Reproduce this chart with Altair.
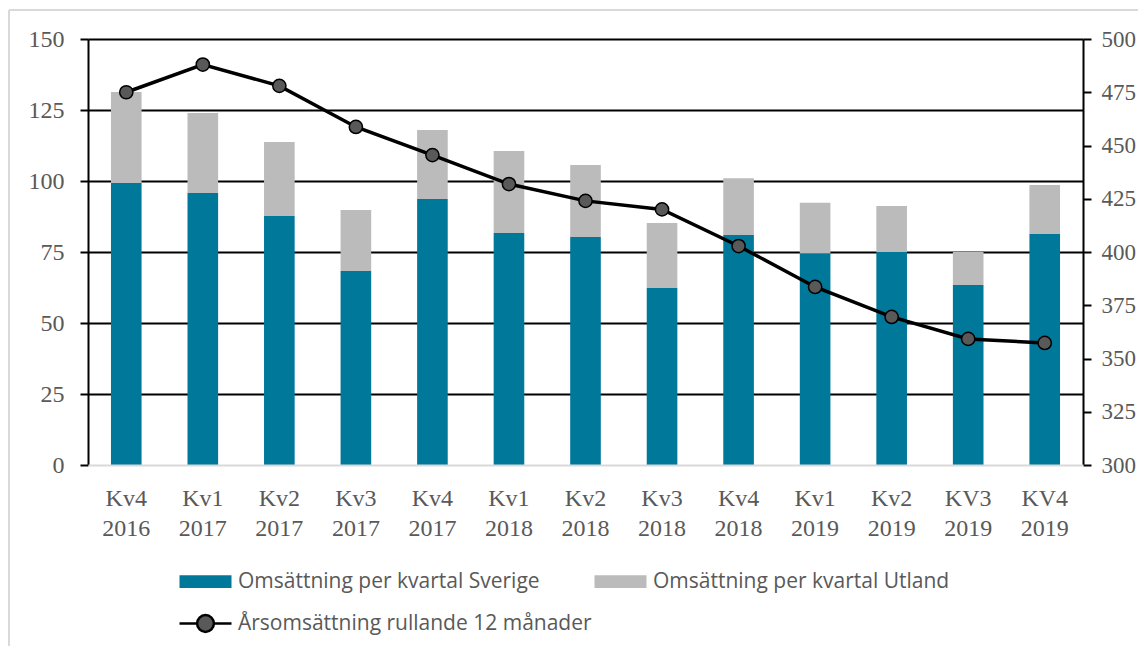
import altair as alt
import pandas as pd

quarters = ["Kv4 2016", "Kv1 2017", "Kv2 2017", "Kv3 2017", "Kv4 2017", "Kv1 2018",
            "Kv2 2018", "Kv3 2018", "Kv4 2018", "Kv1 2019", "Kv2 2019", "KV3 2019", "KV4 2019"]
sverige = [99.3, 95.8, 87.7, 68.3, 93.7, 81.7, 80.3, 62.3, 81.0, 74.6, 75.0, 63.4, 81.3]
utland = [32.0, 28.1, 26.0, 21.5, 24.3, 28.9, 25.3, 22.9, 20.0, 17.7, 16.2, 11.6, 17.3]
rullande = [475.0, 488.0, 478.0, 458.7, 445.5, 431.9, 424.0, 420.0, 402.8, 383.6, 369.5, 359.2, 357.3]

S_NAME = "Omsättning per kvartal Sverige"
U_NAME = "Omsättning per kvartal Utland"
A_NAME = "Årsomsättning rullande 12 månader"

TEAL = "#00789A"
GRAY = "#BBBBBB"
MARKER = "#595959"
TEXT = "#595959"
FRAME = "#D9D9D9"
SERIF = "Liberation Serif"

bars_df = pd.DataFrame(
    [{"q": q, "serie": S_NAME, "v": s, "ord": 0} for q, s in zip(quarters, sverige)]
    + [{"q": q, "serie": U_NAME, "v": u, "ord": 1} for q, u in zip(quarters, utland)]
)
line_df = pd.DataFrame({"q": quarters, "v": rullande})
frame_df = pd.DataFrame({"k": [0]})

rect_path = "M-1,-0.8H5.5V0.8H-1Z"
line_path = ("M-1,0H1.2M3.3,0H5.5M3.3,0A1.05,1.05 0 1,1 1.2,0"
             "A1.05,1.05 0 1,1 3.3,0")

x_scale = alt.Scale(domain=quarters, paddingInner=0.6, paddingOuter=0.3)

x_enc = alt.X(
    "q:N", sort=quarters, scale=x_scale,
    axis=alt.Axis(title=None, labelAngle=0, ticks=False, tickSize=0,
                  labelExpr="split(datum.label, ' ')",
                  labelFont=SERIF, labelFontSize=24, labelColor=TEXT,
                  labelLineHeight=30, labelPadding=21,
                  domainColor=FRAME, domainWidth=2, grid=False, zindex=1),
)
x_plain = alt.X("q:N", sort=quarters, scale=x_scale)

bars = alt.Chart(bars_df).mark_bar().encode(
    x=x_enc,
    y=alt.Y("v:Q", stack="zero",
            scale=alt.Scale(domain=[0, 150], nice=False),
            axis=alt.Axis(title=None, values=[0, 25, 50, 75, 100, 125, 150],
                          labelFont=SERIF, labelFontSize=24, labelColor=TEXT,
                          labelPadding=16, tickSize=8, tickColor="black", tickWidth=2,
                          domainColor="black", domainWidth=2,
                          grid=True, gridWidth=2,
                          gridColor={"condition": {"test": "datum.value === 0", "value": "transparent"},
                                     "value": "black"})),
    color=alt.Color("serie:N",
                    scale=alt.Scale(domain=[S_NAME, U_NAME, A_NAME], range=[TEAL, GRAY, MARKER]),
                    legend=alt.Legend(
                        title=None, orient="none", legendX=89, legendY=532,
                        direction="horizontal",
                        columns=2, columnPadding=-5, rowPadding=17, padding=0,
                        labelFont="Open Sans", labelFontSize=21, labelColor=TEXT,
                        labelOffset=40, labelLimit=500,
                        symbolSize=256, symbolStrokeWidth=2.5,
                        symbolType=alt.ExprRef(
                            expr=f"datum.value === '{A_NAME}' ? '{line_path}' : '{rect_path}'"),
                        symbolStrokeColor=alt.ExprRef(
                            expr=f"datum.value === '{A_NAME}' ? 'black' : 'transparent'"),
                    )),
    order=alt.Order("ord:Q", sort="ascending"),
)

y_right = alt.Y("v:Q", scale=alt.Scale(domain=[300, 500], nice=False),
                axis=alt.Axis(title=None, orient="right",
                              values=[300, 325, 350, 375, 400, 425, 450, 475, 500],
                              labelFont=SERIF, labelFontSize=23, labelColor=TEXT,
                              labelPadding=10, tickSize=8, tickColor="black", tickWidth=2,
                              domainColor="black", domainWidth=2, grid=False))

line = alt.Chart(line_df).mark_line(color="black", strokeWidth=3.5).encode(x=x_plain, y=y_right)
pts = alt.Chart(line_df).mark_point(filled=True, fill=MARKER, stroke="black",
                                    strokeWidth=1.5, size=175, opacity=1).encode(x=x_plain, y=y_right)

# light grey chart-area frame (top and left edges), as in the reference
frame_top = alt.Chart(frame_df).mark_rule(color=FRAME, strokeWidth=2).encode(
    x=alt.value(-79), x2=alt.value(1060), y=alt.value(-29))
frame_left = alt.Chart(frame_df).mark_rule(color=FRAME, strokeWidth=2).encode(
    x=alt.value(-79), y=alt.value(-29), y2=alt.value(615))

chart = alt.layer(frame_top, frame_left, bars, alt.layer(line, pts)).resolve_scale(
    y="independent").properties(
    width=995, height=426,
    padding={"left": 80, "top": 31, "right": 55, "bottom": 181},
    autosize=alt.AutoSizeParams(type="none"),
).configure_view(stroke=None).configure(background="white")

chart.save("out.html", embed_options={"renderer": "svg", "actions": False})
